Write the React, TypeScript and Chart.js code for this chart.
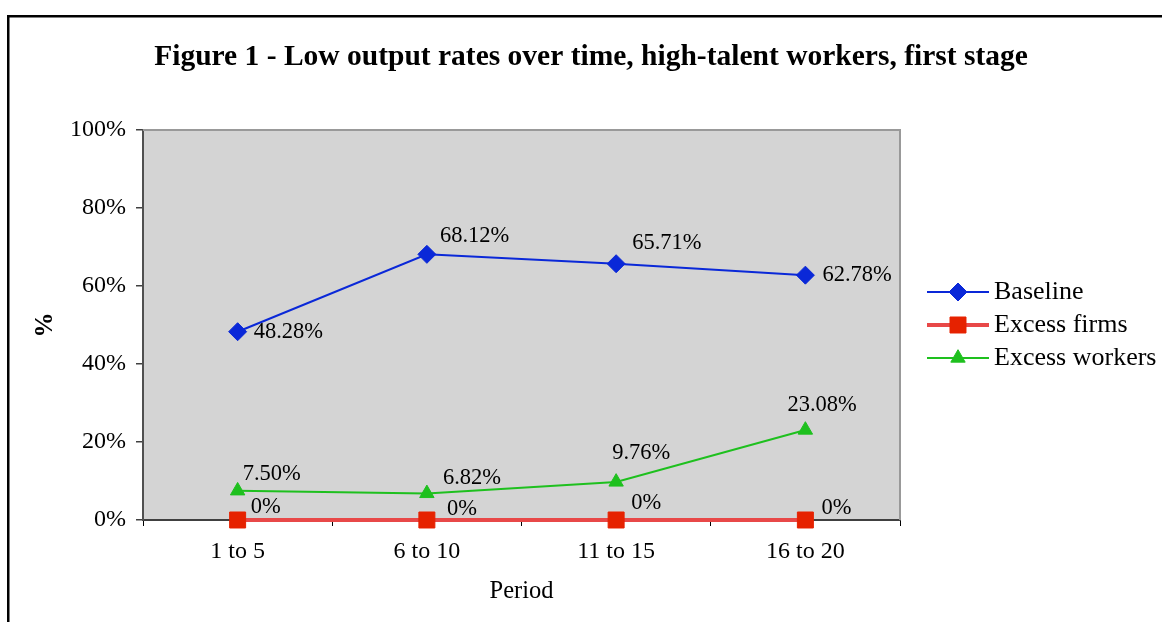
import React, { useEffect, useRef } from 'react';
import { Chart, registerables } from 'chart.js';
import { drawPoint } from 'chart.js/helpers';
Chart.register(...registerables);

const TITLE = 'Figure 1 - Low output rates over time, high-talent workers, first stage';
const categories = ['1 to 5', '6 to 10', '11 to 15', '16 to 20'];
const seriesNames = ['Baseline', 'Excess firms', 'Excess workers'];
const baseline = [48.28, 68.12, 65.71, 62.78];
const excessFirms = [0, 0, 0, 0];
const excessWorkers = [7.5, 6.82, 9.76, 23.08];
const yMin = 0;
const yMax = 100;
const yStep = 20;
const xTitle = 'Period';
const yTitle = '%';

// label placement offsets (styling only), [dx, dy] from the point
const labelOffsets = [
  [[16, 0], [13, -18], [16, -21], [17, 0]],
  [[13, -13], [20, -11], [15, -17], [16, -12]],
  [[5, -17], [16, -15], [-4, -29], [-18, -25]],
];

const FONT = "'Liberation Serif', 'Times New Roman', serif";

const fmt = (v: number) => (v === 0 ? '0%' : v.toFixed(2) + '%');

const framePlugin = {
  id: 'framePlugin',
  beforeDraw(chart: any) {
    const { ctx, chartArea } = chart;
    ctx.save();
    ctx.fillStyle = '#000';
    ctx.fillRect(7, 15, 1162, 2.5);
    ctx.fillRect(7, 15, 2.5, 622);
    ctx.fillStyle = '#d4d4d4';
    ctx.fillRect(chartArea.left, chartArea.top, chartArea.right - chartArea.left, chartArea.bottom - chartArea.top);
    ctx.restore();
  },
  beforeDatasetsDraw(chart: any) {
    const { ctx, chartArea } = chart;
    ctx.save();
    ctx.strokeStyle = '#999999';
    ctx.lineWidth = 2;
    ctx.beginPath();
    ctx.moveTo(chartArea.left, chartArea.top);
    ctx.lineTo(chartArea.right, chartArea.top);
    ctx.lineTo(chartArea.right, chartArea.bottom);
    ctx.stroke();
    ctx.restore();
  },
  afterDatasetsDraw(chart: any) {
    const { ctx } = chart;
    ctx.save();
    ctx.font = `22.5px ${FONT}`;
    ctx.fillStyle = '#000';
    ctx.textAlign = 'left';
    ctx.textBaseline = 'middle';
    chart.data.datasets.forEach((ds: any, di: number) => {
      const meta = chart.getDatasetMeta(di);
      meta.data.forEach((pt: any, i: number) => {
        const [dx, dy] = labelOffsets[di][i];
        ctx.fillText(fmt(ds.data[i]), pt.x + dx, pt.y + dy);
      });
    });
    ctx.restore();
  },
  afterDraw(chart: any) {
    const { ctx } = chart;
    ctx.save();
    // title
    ctx.font = `bold 29.5px ${FONT}`;
    ctx.fillStyle = '#000';
    ctx.textAlign = 'center';
    ctx.textBaseline = 'middle';
    ctx.fillText(TITLE, 591, 57);
    // legend
    const ys = [292, 325, 358];
    chart.data.datasets.forEach((ds: any, di: number) => {
      const y = ys[di];
      ctx.strokeStyle = ds.borderColor;
      ctx.lineWidth = ds.borderWidth;
      ctx.beginPath();
      ctx.moveTo(927, y);
      ctx.lineTo(989, y);
      ctx.stroke();
      ctx.fillStyle = ds.pointBackgroundColor;
      ctx.strokeStyle = ds.pointBorderColor;
      ctx.lineWidth = ds.pointBorderWidth;
      drawPoint(ctx, { pointStyle: ds.pointStyle, rotation: 0, radius: ds.pointRadius, borderWidth: ds.pointBorderWidth }, 958, y);
      ctx.fillStyle = '#000';
      ctx.font = `26px ${FONT}`;
      ctx.textAlign = 'left';
      ctx.textBaseline = 'middle';
      ctx.fillText(ds.label, 994, y);
    });
    ctx.restore();
  },
};

export default function App() {
  const ref = useRef<HTMLCanvasElement | null>(null);
  useEffect(() => {
    if (!ref.current) return;
    const chart = new Chart(ref.current, {
      type: 'line',
      data: {
        labels: categories,
        datasets: [
          {
            label: seriesNames[0],
            data: baseline,
            borderColor: '#0a28d8',
            borderWidth: 2,
            pointStyle: 'rectRot',
            pointRadius: 9,
            pointBackgroundColor: '#0a28d8',
            pointBorderColor: '#0a28d8',
            pointBorderWidth: 1,
            clip: false,
          },
          {
            label: seriesNames[1],
            data: excessFirms,
            borderColor: '#e84848',
            borderWidth: 4,
            pointStyle: 'rect',
            pointRadius: 11.3,
            pointBackgroundColor: '#e62200',
            pointBorderColor: '#e62200',
            pointBorderWidth: 1,
            clip: false,
          },
          {
            label: seriesNames[2],
            data: excessWorkers,
            borderColor: '#1ec01e',
            borderWidth: 2,
            pointStyle: 'triangle',
            pointRadius: 8.3,
            pointBackgroundColor: '#1ec01e',
            pointBorderColor: '#1ec01e',
            pointBorderWidth: 1,
            clip: false,
          },
        ] as any,
      },
      options: {
        responsive: false,
        animation: false,
        devicePixelRatio: 1,
        layout: { padding: { left: 0, top: 130, right: 262, bottom: 0 } },
        plugins: { legend: { display: false }, title: { display: false }, tooltip: { enabled: false } },
        elements: { line: { tension: 0 } },
        scales: {
          x: {
            offset: true,
            grid: { offset: true, drawOnChartArea: false, drawTicks: true, tickLength: 6, color: '#000', lineWidth: 1 },
            border: { display: true, color: '#404040', width: 2 },
            ticks: { font: { family: FONT, size: 24 }, color: '#000', padding: 11 },
            title: { display: true, text: xTitle, font: { family: FONT, size: 24.5 }, color: '#000', padding: { top: 0, bottom: 16 } },
            afterFit: (s: any) => { s.height = 102; },
          },
          y: {
            min: yMin,
            max: yMax,
            ticks: { stepSize: yStep, callback: (v: any) => v + '%', font: { family: FONT, size: 24 }, color: '#000', padding: 10 },
            grid: { drawOnChartArea: false, drawTicks: true, tickLength: 7, color: '#404040', lineWidth: 1.5 },
            border: { display: true, color: '#505050', width: 2 },
            title: { display: true, text: yTitle, font: { family: FONT, size: 25, weight: 'bold' }, color: '#000', padding: { top: 31, bottom: 0 } },
            afterFit: (s: any) => { s.width = 143; },
          },
        },
      } as any,
      plugins: [framePlugin],
    });
    return () => chart.destroy();
  }, []);
  return (
    <div style={{ position: 'absolute', left: 0, top: 0, width: 1162, height: 622, overflow: 'hidden', background: '#fff' }}>
      <canvas ref={ref} width={1162} height={622} style={{ display: 'block' }} />
    </div>
  );
}
